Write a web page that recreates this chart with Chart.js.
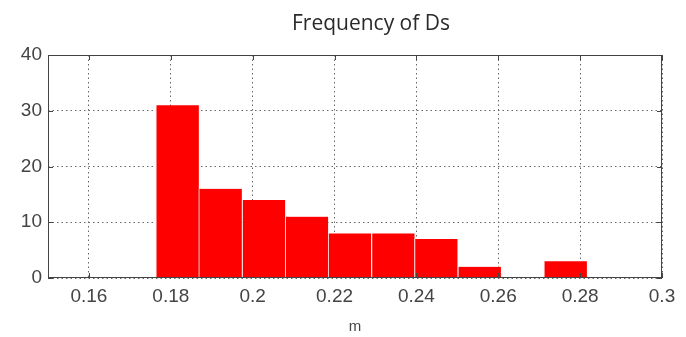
<!DOCTYPE html>
<html>
<head>
<meta charset="utf-8">
<script src="https://cdn.jsdelivr.net/npm/chart.js@4"></script>
<style>
  html, body { margin: 0; padding: 0; background: #fff; }
  #wrap { width: 686px; height: 337px; }
</style>
</head>
<body>
<div id="wrap"><canvas id="myChart" width="686" height="337"></canvas></div>
<script>
// Histogram data
const titleText = "Frequency of Ds";
const xTitle = "m";
const binCenters = [0.1816, 0.1921, 0.2027, 0.2132, 0.2237, 0.2343, 0.2448, 0.2554, 0.2659, 0.2764];
const counts = [31, 16, 14, 11, 8, 8, 7, 2, 0, 3];

// Axis ticks
const xTicks = [0.16, 0.18, 0.2, 0.22, 0.24, 0.26, 0.28, 0.3];
const xTickLabels = ["0.16", "0.18", "0.2", "0.22", "0.24", "0.26", "0.28", "0.3"];
const yTicks = [0, 10, 20, 30, 40];
const yTickLabels = ["0", "10", "20", "30", "40"];

const tickFont = { family: "'Liberation Sans Narrow', 'Liberation Sans', Arial", size: 19 };
const axisColor = "#444";

// draws the box, inward tick marks and the title (MATLAB look)
const boxPlugin = {
    id: "boxPlugin",
    afterDraw(chart) {
        const { ctx, chartArea, scales } = chart;
        const { left, right, top, bottom } = chartArea;
        ctx.save();
        ctx.strokeStyle = axisColor;
        ctx.lineWidth = 1;
        ctx.strokeRect(left + 0.5, top + 0.5, right - left - 1, bottom - top - 1);

        const len = 5;
        ctx.beginPath();
        xTicks.forEach((v) => {
            const x = Math.round(scales.x.getPixelForValue(v)) + 0.5;
            ctx.moveTo(x, bottom);
            ctx.lineTo(x, bottom - len);
            ctx.moveTo(x, top);
            ctx.lineTo(x, top + len);
        });
        yTicks.forEach((v) => {
            const y = Math.round(scales.y.getPixelForValue(v)) + 0.5;
            ctx.moveTo(left, y);
            ctx.lineTo(left + len, y);
            ctx.moveTo(right, y);
            ctx.lineTo(right - len, y);
        });
        ctx.stroke();

        ctx.fillStyle = "#2a2a2a";
        ctx.font = "21px 'Open Sans'";
        ctx.textAlign = "center";
        ctx.textBaseline = "alphabetic";
        ctx.fillText(titleText, (left + right) / 2 + 16, 30);
        ctx.restore();
    }
};

const myChart = new Chart("myChart", {
    type: "bar",
    data: {
        datasets: [
            {
                data: binCenters.map((x, i) => ({ x: x, y: counts[i] })),
                backgroundColor: "#ff0000",
                borderColor: "rgba(255,235,235,0.9)",
                borderWidth: { left: 1, right: 0, top: 0, bottom: 0 },
                borderSkipped: false,
                barPercentage: 1,
                categoryPercentage: 1,
            },
        ],
    },
    options: {
        responsive: false,
        animation: false,
        layout: {
            padding: { left: 0, right: 24, top: 55, bottom: 0 },
        },
        plugins: {
            legend: { display: false },
            title: { display: false },
            tooltip: { enabled: false },
        },
        scales: {
            x: {
                type: "linear",
                offset: false,
                min: 0.15,
                max: 0.3,
                afterBuildTicks: (scale) => {
                    scale.ticks = xTicks.map((v) => ({ value: v }));
                },
                afterFit: (scale) => {
                    scale.height = 59;
                },
                ticks: {
                    font: tickFont,
                    color: axisColor,
                    padding: 7,
                    maxRotation: 0,
                    autoSkip: false,
                    callback: (v) => xTickLabels[xTicks.indexOf(v)] ?? "",
                },
                grid: {
                    color: "#666",
                    offset: false,
                    drawTicks: false,
                },
                border: { display: false, dash: [1.5, 3] },
                title: {
                    display: true,
                    text: xTitle,
                    color: axisColor,
                    font: { family: tickFont.family, size: 15 },
                    padding: { top: 0, bottom: 1 },
                },
            },
            y: {
                min: 0,
                max: 40,
                afterBuildTicks: (scale) => {
                    scale.ticks = yTicks.map((v) => ({ value: v }));
                },
                afterFit: (scale) => {
                    scale.width = 48;
                },
                ticks: {
                    font: tickFont,
                    color: axisColor,
                    padding: 6,
                    callback: (v) => yTickLabels[yTicks.indexOf(v)] ?? "",
                },
                grid: {
                    color: "#666",
                    drawTicks: false,
                },
                border: { display: false, dash: [1.5, 3] },
            },
        },
    },
    plugins: [boxPlugin],
});
</script>
</body>
</html>
